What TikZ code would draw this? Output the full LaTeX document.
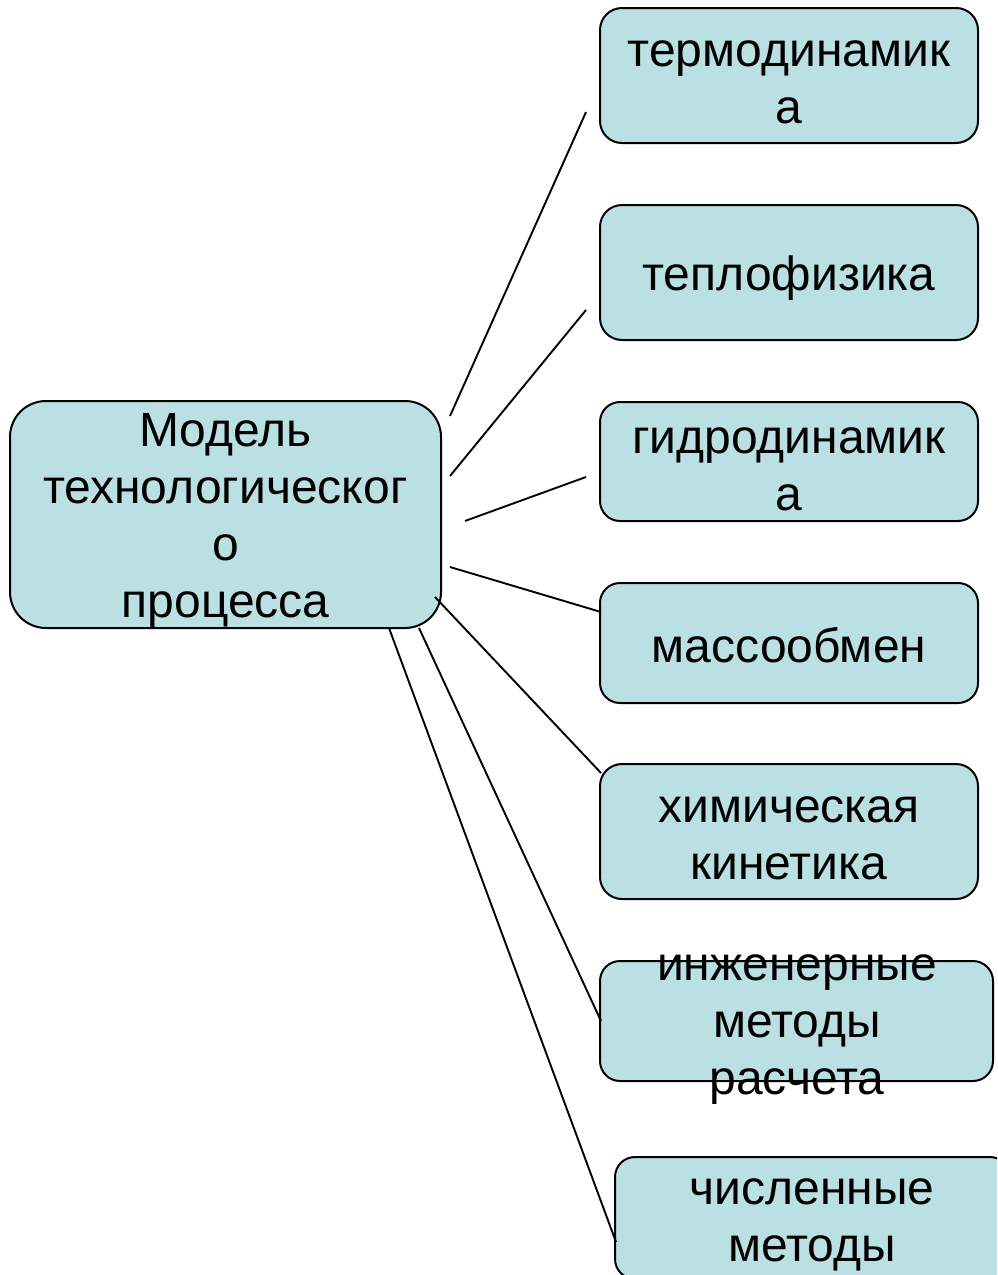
\documentclass[tikz,border=0pt]{standalone}
\usepackage{fontspec}
\setmainfont{Liberation Sans}
\definecolor{boxfill}{RGB}{187,224,227}
\begin{document}
\begin{tikzpicture}[x=1pt,y=-1pt,
  box/.style={draw=black,line width=2pt,fill=boxfill,rectangle,inner sep=0pt},
  txt/.style={align=center,inner sep=0pt,font=\fontsize{48}{57}\selectfont},
  conn/.style={draw=black,line width=1.9pt}]
\useasboundingbox (0,0) rectangle (997,1275);
\clip (0,0) rectangle (997,1275);
\fill[white] (0,0) rectangle (997,1275);
% connector ends
\coordinate (c1a) at (450,416); \coordinate (c1b) at (586,112);
\coordinate (c2a) at (450,476); \coordinate (c2b) at (586,310);
\coordinate (c3a) at (465,521); \coordinate (c3b) at (586,477);
\coordinate (c4a) at (450,567); \coordinate (c4b) at (601,612);
\coordinate (c5a) at (435,597); \coordinate (c5b) at (601,773);
\coordinate (c6a) at (419,628); \coordinate (c6b) at (601,1021);
\coordinate (c7a) at (389,628); \coordinate (c7b) at (616,1242);
% boxes
\node[box,minimum width=431pt,minimum height=227pt,rounded corners=36pt] (m) at (225.5,514.5) {};
\node[box,minimum width=378pt,minimum height=135pt,rounded corners=22pt] (b1) at (789,75.5) {};
\node[box,minimum width=378pt,minimum height=135pt,rounded corners=22pt] (b2) at (789,272.5) {};
\node[box,minimum width=378pt,minimum height=119pt,rounded corners=20pt] (b3) at (789,461.5) {};
\node[box,minimum width=378pt,minimum height=120pt,rounded corners=20pt] (b4) at (789,643) {};
\node[box,minimum width=378pt,minimum height=135pt,rounded corners=22pt] (b5) at (789,831.5) {};
\node[box,minimum width=393pt,minimum height=120pt,rounded corners=20pt] (b6) at (796.5,1021) {};
\node[box,minimum width=395pt,minimum height=122pt,rounded corners=20pt] (b7) at (812.5,1218) {};
\draw[conn] (c1a) -- (c1b);
\draw[conn] (c2a) -- (c2b);
\draw[conn] (c3a) -- (c3b);
\draw[conn] (c4a) -- (c4b);
\draw[conn] (c5a) -- (c5b);
\draw[conn] (c6a) -- (c6b);
\draw[conn] (c7a) -- (c7b);
% texts
\node[txt] (tm) at (225.5,520) {Модель\\технологическог\\о\\процесса};
\node[txt] (t1) at (789,82) {термодинамик\\а};
\node[txt] (t2) at (789,278) {теплофизика};
\node[txt] (t3) at (789,469) {гидродинамик\\а};
\node[txt] (t4) at (789,645) {массообмен};
\node[txt] (t5) at (789,838) {химическая\\кинетика};
\node[txt] (t6) at (797,1030) {инженерные\\методы\\расчета};
\node[txt] (t7) at (812,1225) {численные\\методы};
\end{tikzpicture}
\end{document}
